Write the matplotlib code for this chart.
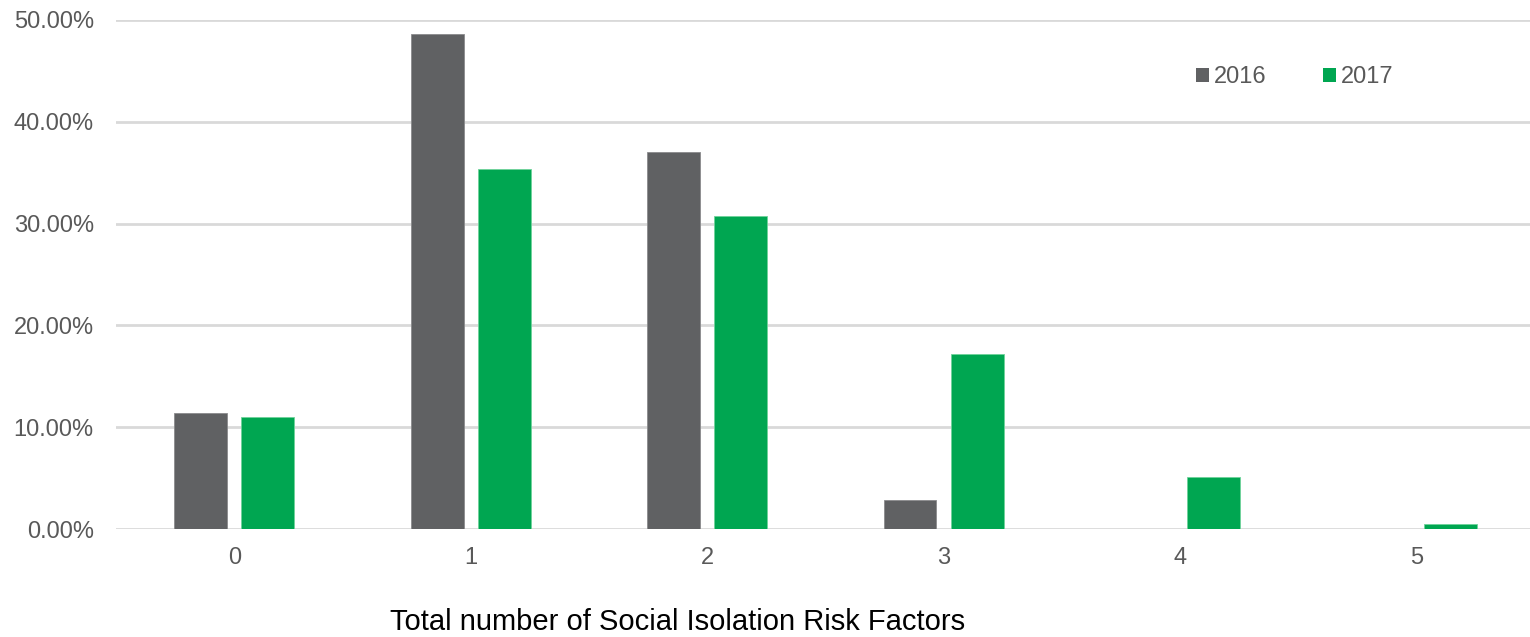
import matplotlib
matplotlib.use("Agg")
import matplotlib.pyplot as plt
from matplotlib.patches import Patch
from matplotlib.ticker import FuncFormatter
import numpy as np

plt.rcParams['font.family'] = ['Liberation Sans', 'DejaVu Sans']

categories = ["0", "1", "2", "3", "4", "5"]
share_2016 = [11.40, 48.58, 37.07, 2.82, 0.0, 0.0]
share_2017 = [10.98, 35.33, 30.76, 17.22, 5.10, 0.50]
series_names = ["2016", "2017"]
y_ticks = [0, 10, 20, 30, 40, 50]

color_2016 = "#606163"
color_2017 = "#00A651"
text_gray = "#595959"
grid_gray = "#D9D9D9"

fig = plt.figure(figsize=(15.3, 6.37), dpi=100)
ax = fig.add_axes([116 / 1530, 108 / 637, 1 - 116 / 1530, 509 / 637])

x = np.arange(len(categories))
width = 0.224
offset = 0.142
ax.bar(x - offset, share_2016, width, color=color_2016, edgecolor="#8a8b8d",
       linewidth=0.6, zorder=3)
ax.bar(x + offset, share_2017, width, color=color_2017, edgecolor="#6fd39b",
       linewidth=0.6, zorder=3)

ax.set_xlim(-0.5, 5.48)
ax.set_ylim(0, 50)
ax.set_yticks(y_ticks)
ax.yaxis.set_major_formatter(FuncFormatter(lambda v, _: f"{v:.2f}%"))
ax.set_xticks(x)
ax.set_xticklabels(categories)

ax.grid(axis="y", color=grid_gray, linewidth=2, zorder=0)
ax.set_axisbelow(True)
for s in ax.spines.values():
    s.set_visible(False)
ax.tick_params(axis="both", length=0, labelsize=17, labelcolor=text_gray)
ax.tick_params(axis="y", pad=16)
ax.tick_params(axis="x", pad=13)

fig.text(678 / 1530, 1 - 622 / 637, "Total number of Social Isolation Risk Factors",
         ha="center", va="center", fontsize=21, color="black")

handles = [Patch(facecolor=color_2016), Patch(facecolor=color_2017)]
fig.legend(handles, series_names, loc="center left",
           bbox_to_anchor=(1196 / 1530, 1 - 77 / 637), ncol=2, frameon=False,
           fontsize=17, labelcolor=text_gray, handlelength=0.55,
           handleheight=0.55, handletextpad=0.2, columnspacing=2.4,
           borderpad=0, borderaxespad=0)

fig.savefig("out.png", dpi=100, facecolor="white")
